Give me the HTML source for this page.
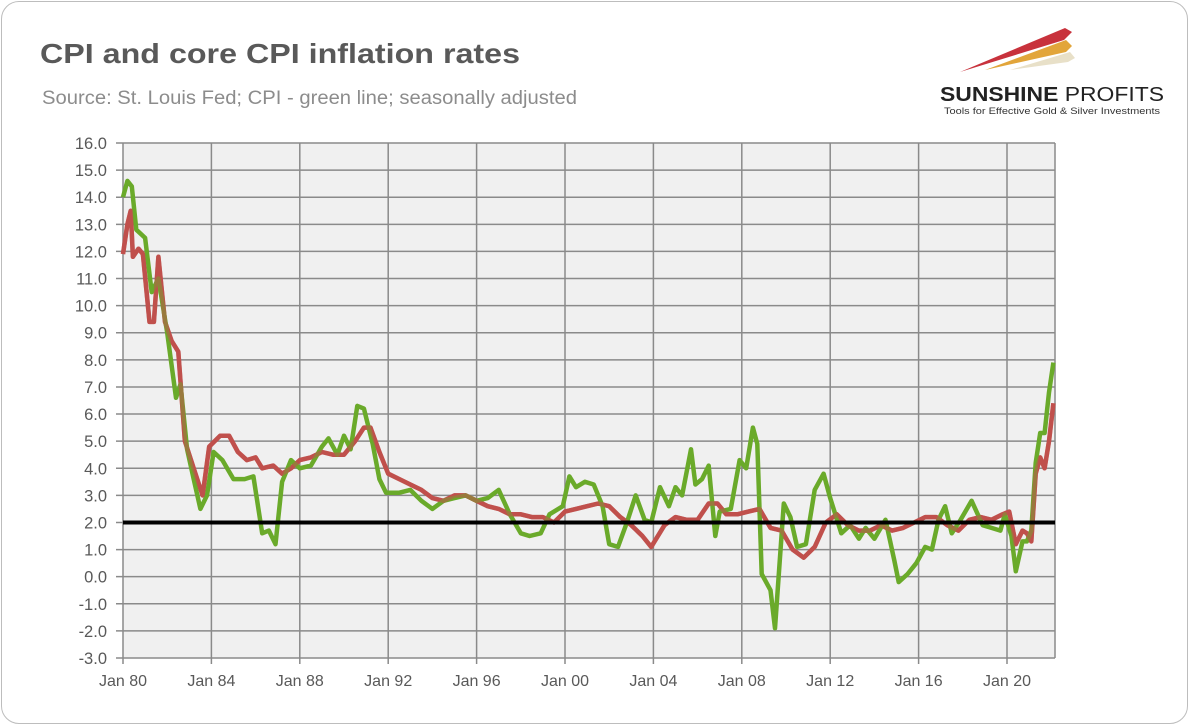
<!DOCTYPE html>
<html><head><meta charset="utf-8"><style>
body{margin:0;background:#fff;width:1190px;height:726px;overflow:hidden;font-family:"Liberation Sans",sans-serif}
.card{position:absolute;left:1px;top:1px;width:1185px;height:721px;border:1.5px solid #bdbdbd;border-radius:18px;background:#fff}
</style></head><body>
<div class="card"></div>
<svg width="1190" height="726" style="position:absolute;left:0;top:0">
<text x="40" y="63" font-size="28" font-weight="bold" fill="#595959" textLength="480" lengthAdjust="spacingAndGlyphs">CPI and core CPI inflation rates</text>
<text x="42" y="104" font-size="19" fill="#8c8c8c" textLength="535" lengthAdjust="spacingAndGlyphs">Source: St. Louis Fed; CPI - green line; seasonally adjusted</text>
<g>
<polygon points="960,72 1065,28 1072,32 1064,40" fill="#c8323c"/>
<polygon points="985,70 1066,40 1072,46 1066,52" fill="#e2a53a"/>
<polygon points="1010,70 1070,52 1075,58 1068,62" fill="#e8e0c8"/>
<text x="940" y="101" font-size="20" font-weight="bold" fill="#222" textLength="224" lengthAdjust="spacingAndGlyphs">SUNSHINE <tspan font-weight="normal">PROFITS</tspan></text>
<text x="944" y="114" font-size="9" fill="#333" textLength="216" lengthAdjust="spacingAndGlyphs">Tools for Effective Gold &amp; Silver Investments</text>
</g>
<g id="plot"></g>
</svg>
<script>
const yTicks=[-3,-2,-1,0,1,2,3,4,5,6,7,8,9,10,11,12,13,14,15,16];
const xTickYears=[1980,1984,1988,1992,1996,2000,2004,2008,2012,2016,2020];
const xTickLabels=["Jan 80","Jan 84","Jan 88","Jan 92","Jan 96","Jan 00","Jan 04","Jan 08","Jan 12","Jan 16","Jan 20"];
const cpiDates=[1980.0,1980.2,1980.4,1980.6,1981.0,1981.3,1981.6,1982.0,1982.4,1982.6,1982.9,1983.2,1983.5,1983.8,1984.1,1984.5,1985.0,1985.5,1985.9,1986.3,1986.6,1986.9,1987.2,1987.6,1988.0,1988.5,1989.0,1989.3,1989.7,1990.0,1990.3,1990.6,1990.9,1991.3,1991.6,1991.9,1992.5,1993.0,1993.5,1994.0,1994.5,1995.0,1995.5,1996.0,1996.5,1997.0,1997.5,1998.0,1998.4,1998.9,1999.3,1999.9,2000.2,2000.5,2000.9,2001.3,2001.7,2002.0,2002.4,2002.8,2003.2,2003.6,2003.9,2004.3,2004.7,2005.0,2005.3,2005.7,2005.9,2006.2,2006.5,2006.8,2007.0,2007.5,2007.9,2008.2,2008.5,2008.7,2008.9,2009.3,2009.5,2009.9,2010.2,2010.5,2010.9,2011.3,2011.7,2012.0,2012.5,2012.9,2013.3,2013.6,2014.0,2014.5,2014.9,2015.1,2015.5,2015.9,2016.3,2016.6,2016.9,2017.2,2017.5,2017.9,2018.4,2018.9,2019.3,2019.7,2019.9,2020.2,2020.4,2020.7,2020.9,2021.1,2021.3,2021.5,2021.7,2021.9,2022.1];
const cpiValues=[14.0,14.6,14.4,12.8,12.5,10.5,11.0,9.0,6.6,7.1,4.7,3.6,2.5,3.0,4.6,4.3,3.6,3.6,3.7,1.6,1.7,1.2,3.5,4.3,4.0,4.1,4.8,5.1,4.5,5.2,4.7,6.3,6.2,4.9,3.6,3.1,3.1,3.2,2.8,2.5,2.8,2.9,3.0,2.8,2.9,3.2,2.3,1.6,1.5,1.6,2.3,2.6,3.7,3.3,3.5,3.4,2.6,1.2,1.1,2.0,3.0,2.1,2.0,3.3,2.6,3.3,3.0,4.7,3.4,3.6,4.1,1.5,2.4,2.5,4.3,4.0,5.5,4.9,0.1,-0.5,-1.9,2.7,2.2,1.1,1.2,3.2,3.8,2.9,1.6,1.9,1.4,1.8,1.4,2.1,0.6,-0.2,0.1,0.5,1.1,1.0,2.1,2.6,1.6,2.1,2.8,1.9,1.8,1.7,2.3,1.5,0.2,1.3,1.3,1.7,4.2,5.3,5.3,6.8,7.9];
const coreDates=[1980.0,1980.2,1980.35,1980.45,1980.7,1980.9,1981.2,1981.4,1981.6,1981.9,1982.2,1982.5,1982.8,1983.2,1983.6,1983.9,1984.4,1984.8,1985.2,1985.6,1986.0,1986.3,1986.8,1987.2,1987.6,1988.0,1988.5,1989.0,1989.5,1990.0,1990.5,1990.9,1991.2,1991.6,1992.0,1992.5,1993.0,1993.5,1994.0,1994.5,1995.0,1995.5,1996.0,1996.5,1997.0,1997.5,1998.0,1998.5,1999.0,1999.5,2000.0,2000.5,2001.0,2001.5,2002.0,2002.5,2003.0,2003.5,2003.9,2004.5,2005.0,2005.5,2006.0,2006.5,2006.9,2007.3,2007.8,2008.3,2008.8,2009.3,2009.8,2010.3,2010.8,2011.3,2011.8,2012.3,2012.8,2013.3,2013.8,2014.3,2014.8,2015.3,2015.8,2016.3,2016.8,2017.3,2017.8,2018.3,2018.8,2019.3,2019.8,2020.1,2020.4,2020.7,2020.9,2021.1,2021.3,2021.5,2021.7,2021.9,2022.1];
const coreValues=[11.9,13.0,13.5,11.8,12.1,11.9,9.4,9.4,11.8,9.4,8.7,8.3,5.0,4.0,3.0,4.8,5.2,5.2,4.6,4.3,4.4,4.0,4.1,3.8,4.0,4.3,4.4,4.6,4.5,4.5,5.0,5.5,5.5,4.6,3.8,3.6,3.4,3.2,2.9,2.8,3.0,3.0,2.8,2.6,2.5,2.3,2.3,2.2,2.2,2.0,2.4,2.5,2.6,2.7,2.6,2.2,1.9,1.5,1.1,1.9,2.2,2.1,2.1,2.7,2.7,2.3,2.3,2.4,2.5,1.8,1.7,1.0,0.7,1.1,2.0,2.3,1.9,1.7,1.7,1.9,1.7,1.8,2.0,2.2,2.2,1.9,1.7,2.1,2.2,2.1,2.3,2.4,1.2,1.7,1.6,1.3,3.8,4.4,4.0,5.0,6.4];
const targetValue=[2];

const NS="http://www.w3.org/2000/svg";
const L=123,R=1055,T=143,B=658,yMin=-3,yMax=16,x0=1980,pxYear=22.1;
const X=t=>L+(t-x0)*pxYear, Y=v=>B-(v-yMin)/(yMax-yMin)*(B-T);
const g=document.getElementById('plot');
function mk(tag,at){const e=document.createElementNS(NS,tag);for(const k in at)e.setAttribute(k,at[k]);g.appendChild(e);return e;}
const bg=mk('rect',{x:L,y:T,width:R-L,height:B-T,fill:'#f0f0f0'});


yTicks.forEach(v=>{
 const l=mk('line',{x1:L-7,x2:R,y1:Y(v),y2:Y(v),stroke:'#8a8a8a','stroke-width':1.5});
 
 
 const t=mk('text',{x:L-16,y:Y(v)+6,'text-anchor':'end','font-size':16.5,fill:'#595959'});
 t.textContent=v.toFixed(1);
 
 
});
xTickYears.forEach((yr,i)=>{
 const l=mk('line',{x1:X(yr),x2:X(yr),y1:T,y2:B+6,stroke:'#8a8a8a','stroke-width':1.5});
 
 
 const t=mk('text',{x:X(yr),y:B+28,'text-anchor':'middle','font-size':16,fill:'#595959'});
 t.textContent=xTickLabels[i];
 
 
});
const rb=mk('line',{x1:R,x2:R,y1:T,y2:B,stroke:'#8a8a8a','stroke-width':1.5});


function path(d,v){return d.map((t,i)=>(i?'L':'M')+X(t).toFixed(1)+','+Y(v[i]).toFixed(1)).join(' ');}
const core=mk('path',{d:path(coreDates,coreValues),fill:'none',stroke:'#c0504d','stroke-width':4.5,'stroke-linejoin':'round'});


const cpi=mk('path',{d:path(cpiDates,cpiValues),fill:'none',stroke:'#6aaa2a','stroke-width':4.5,'stroke-linejoin':'round'});


const core2=mk('path',{d:path(coreDates,coreValues),fill:'none',stroke:'#c0504d','stroke-width':4.5,'stroke-linejoin':'round','stroke-opacity':0.55});


const tl=mk('line',{x1:L,x2:R,y1:Y(targetValue[0]),y2:Y(targetValue[0]),stroke:'#000','stroke-width':4});


</script>
</body></html>
